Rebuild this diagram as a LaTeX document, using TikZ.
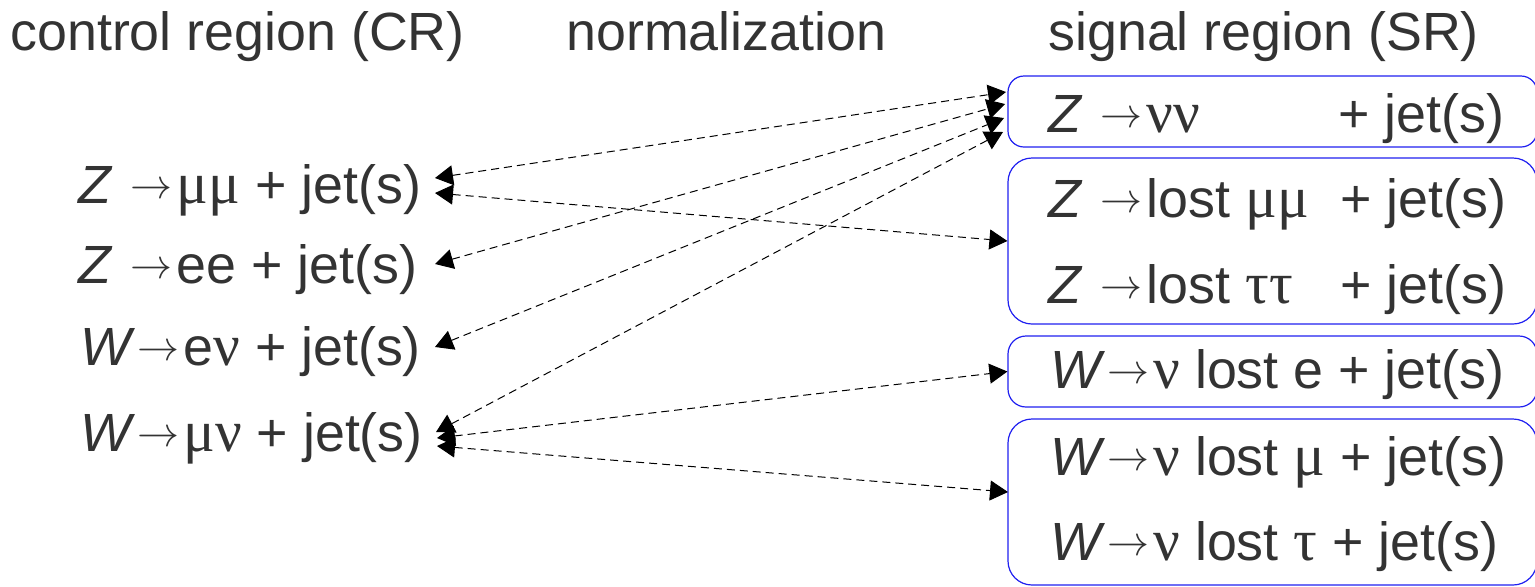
\documentclass[tikz,border=0pt]{standalone}
\usepackage{fontspec}
\setmainfont{Liberation Sans}
\newfontfamily\grfont[Scale=1.1]{Liberation Serif}
\usetikzlibrary{arrows.meta,fit}
\definecolor{txt}{HTML}{333333}
\definecolor{boxblue}{HTML}{2020F0}
\newcommand\arr{\raisebox{2.2pt}{\resizebox{21pt}{!}{$\rightarrow$}}}
\newcommand\gk[1]{{\grfont #1}}
\newcommand\zarr{\textit{Z}\hspace{9pt}\arr\hspace{2pt}}
\newcommand\warr{\textit{W}\hspace{1pt}\arr\hspace{2pt}}
\begin{document}
\begin{tikzpicture}[x=0.5pt,y=-0.5pt,
  lbl/.style={anchor=base west, inner sep=0pt, text=txt, font=\fontsize{26.9pt}{30pt}\selectfont},
  srbox/.style={draw=boxblue, line width=0.6pt, inner sep=0pt},
  conn/.style={line width=0.5pt, dash pattern=on 4pt off 2.5pt, {Triangle[length=9pt,width=10pt]}-{Triangle[length=9pt,width=10pt]}}]
\useasboundingbox (0,0) rectangle (1535,586);
% titles
\node[lbl] (tcr) at (10,50) {control region (CR)};
\node[lbl] (tnorm) at (566,50) {normalization};
\node[lbl] (tsr) at (1048,50) {signal region (SR)};
% control regions
\node[lbl] (zmm) at (78,203) {\zarr\gk{μμ} + jet(s)};
\node[lbl] (zee) at (78,283) {\zarr ee + jet(s)};
\node[lbl] (wen) at (80,365) {\warr e\gk{ν} + jet(s)};
\node[lbl] (wmn) at (80,451) {\warr\gk{μν} + jet(s)};
% signal region boxes
\node[srbox, rounded corners=8pt, fit={(1008,76) (1537,147)}] (box1) {};
\node[srbox, rounded corners=12pt, fit={(1008,158) (1537,324)}] (box2) {};
\node[srbox, rounded corners=9pt, fit={(1008,336) (1537,407)}] (box3) {};
\node[srbox, rounded corners=12pt, fit={(1008,419) (1537,585)}] (box4) {};
% box texts
\node[lbl] (s1a) at (1048,132) {\zarr\gk{νν}};
\node[lbl] (s1b) at (1338,132) {+ jet(s)};
\node[lbl] (s2a) at (1048,217) {\zarr lost \gk{μμ}};
\node[lbl] (s2b) at (1340,217) {+ jet(s)};
\node[lbl] (s3a) at (1048,303) {\zarr lost \gk{ττ}};
\node[lbl] (s3b) at (1340,303) {+ jet(s)};
\node[lbl] (s4) at (1050,388) {\warr\gk{ν} lost e + jet(s)};
\node[lbl] (s5) at (1050,475) {\warr\gk{ν} lost \gk{μ} + jet(s)};
\node[lbl] (s6) at (1050,560) {\warr\gk{ν} lost \gk{τ} + jet(s)};
% connector end points
\coordinate (L1) at (435,178);
\coordinate (L2) at (435,193);
\coordinate (L3) at (435,264);
\coordinate (L4) at (435,347);
\coordinate (L5) at (436,432);
\coordinate (L6) at (437,438);
\coordinate (L7) at (437,446);
\coordinate (R1) at (1006,92);
\coordinate (R2) at (1005,104);
\coordinate (R3) at (1004,118);
\coordinate (R4) at (1003,132);
\coordinate (R7) at (1008,492);
% connectors
\draw[conn] (L1) -- (R1);
\draw[conn] (L3) -- (R2);
\draw[conn] (L4) -- (R3);
\draw[conn] (L5) -- (R4);
\draw[conn] (L2) -- (box2.west);
\draw[conn] (L6) -- (box3.west);
\draw[conn] (L7) -- (R7);
\end{tikzpicture}
\end{document}
